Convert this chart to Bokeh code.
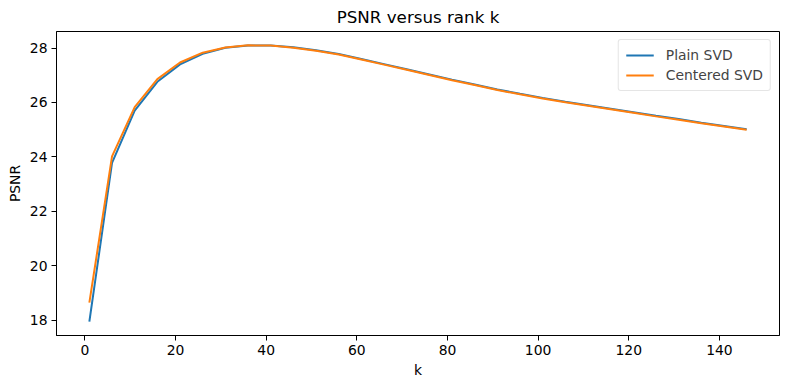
from bokeh.plotting import figure
from bokeh.models import Range1d, FixedTicker, Legend, LegendItem, ColumnDataSource
from bokeh.embed import file_html
from bokeh.resources import INLINE

k_values = [1, 6, 11, 16, 21, 26, 31, 36, 41, 46, 51, 56, 61, 66, 71, 76, 81, 86,
            91, 96, 101, 106, 111, 116, 121, 126, 131, 136, 141, 146]
plain_svd = [17.95, 23.78, 25.70, 26.76, 27.40, 27.79, 28.01, 28.09, 28.09, 28.03,
             27.92, 27.78, 27.60, 27.41, 27.22, 27.03, 26.84, 26.66, 26.48, 26.32,
             26.17, 26.03, 25.90, 25.77, 25.64, 25.51, 25.39, 25.26, 25.14, 25.02]
centered_svd = [18.65, 24.02, 25.83, 26.86, 27.47, 27.83, 28.02, 28.10, 28.09, 28.01,
                27.90, 27.76, 27.58, 27.39, 27.20, 27.01, 26.82, 26.64, 26.46, 26.30,
                26.15, 26.01, 25.88, 25.75, 25.62, 25.49, 25.37, 25.24, 25.12, 25.00]
x_ticks = [0, 20, 40, 60, 80, 100, 120, 140]
y_ticks = [18, 20, 22, 24, 26, 28]

FONT = "DejaVu Sans"

xmin, xmax = min(k_values), max(k_values)
xpad = 0.05 * (xmax - xmin)
allv = plain_svd + centered_svd
ymin, ymax = min(allv), max(allv)
ypad = 0.05 * (ymax - ymin)

p = figure(width=788, height=380, output_backend="svg", toolbar_location=None,
           x_range=Range1d(xmin - xpad, xmax + xpad),
           y_range=Range1d(ymin - ypad, ymax + ypad),
           title="PSNR versus rank k",
           min_border_left=56, min_border_right=9, min_border_top=28, min_border_bottom=44)

p.title.align = "center"
p.title.text_font = FONT
p.title.text_font_size = "16.7px"
p.title.text_font_style = "normal"
p.title.text_color = "black"
p.title.standoff = 9

src = ColumnDataSource(dict(k=k_values, plain=plain_svd, centered=centered_svd))
r1 = p.line("k", "plain", source=src, line_color="#1f77b4", line_width=2)
r2 = p.line("k", "centered", source=src, line_color="#ff7f0e", line_width=2)

p.xgrid.visible = False
p.ygrid.visible = False
p.outline_line_color = "black"
p.outline_line_width = 1
p.outline_line_alpha = 1

p.xaxis.ticker = FixedTicker(ticks=x_ticks)
p.yaxis.ticker = FixedTicker(ticks=y_ticks)
for ax in (p.xaxis[0], p.yaxis[0]):
    ax.major_label_text_font = FONT
    ax.major_label_text_font_size = "13.9px"
    ax.major_label_text_color = "black"
    ax.axis_label_text_font = FONT
    ax.axis_label_text_font_size = "13.9px"
    ax.axis_label_text_font_style = "normal"
    ax.axis_label_text_color = "black"
    ax.axis_label_standoff = 4
    ax.major_tick_in = 0
    ax.major_tick_out = 5
    ax.minor_tick_line_color = None
    ax.axis_line_color = "black"
    ax.major_tick_line_color = "black"
p.xaxis.axis_label = "k"
p.yaxis.axis_label = "PSNR"
p.yaxis.major_label_orientation = "horizontal"
p.xaxis.major_label_standoff = 4
p.yaxis.major_label_standoff = 4

legend = Legend(items=[LegendItem(label="Plain SVD", renderers=[r1]),
                       LegendItem(label="Centered SVD", renderers=[r2])],
                location="top_right")
legend.label_text_font = FONT
legend.label_text_font_size = "13.9px"
legend.border_line_color = "#cccccc"
legend.border_line_width = 1
legend.border_radius = 3
legend.glyph_width = 28
legend.glyph_height = 16
legend.label_height = 16
legend.spacing = 4
legend.padding = 7
legend.margin = 8
legend.label_standoff = 12
p.add_layout(legend)

open("out.html", "w").write(file_html(p, INLINE))
